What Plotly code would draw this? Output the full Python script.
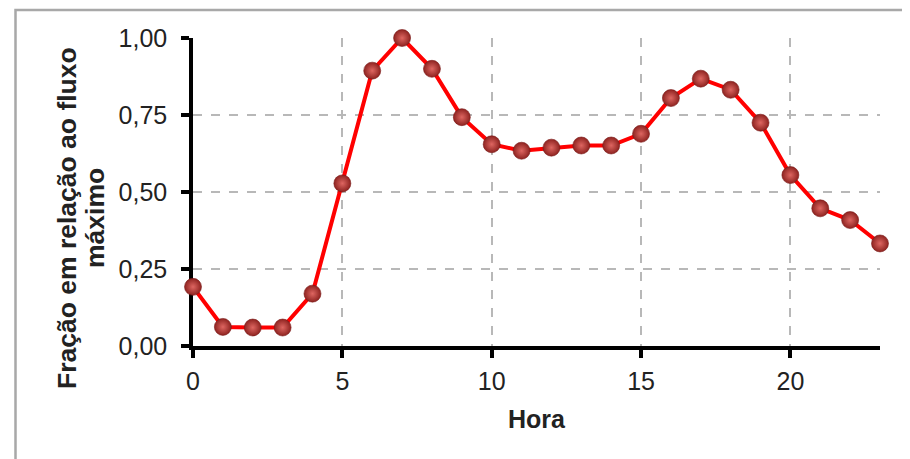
import plotly.graph_objects as go

hours = list(range(24))
fraction = [0.192, 0.062, 0.060, 0.060, 0.170, 0.528, 0.894, 1.000, 0.900, 0.743,
            0.655, 0.634, 0.644, 0.651, 0.651, 0.689, 0.805, 0.868, 0.832, 0.725,
            0.555, 0.447, 0.409, 0.333]
x_ticks = [0, 5, 10, 15, 20]
y_ticks = [0.0, 0.25, 0.5, 0.75, 1.0]
y_title_lines = ["Fração em relação ao fluxo", "máximo"]
x_title = "Hora"

# page body has an 8px margin; compensate so plot lands where the reference has it
OX, OY = 8, 8
W, H = 910, 459
L, R, T, B = 185, 38, 30, 121
pw, ph = W - L - R, H - T - B

def px_x(p):
    return (p - OX - L) / pw

def px_y(p):
    return (OY + T + ph - p) / ph

fig = go.Figure()
fig.add_trace(go.Scatter(
    x=hours, y=fraction, mode="lines+markers",
    line=dict(color="#ff0000", width=4),
    marker=dict(size=17, color="#8e2320",
                gradient=dict(type="radial", color="#de6661"),
                line=dict(width=0.6, color="#7a1a17")),
    cliponaxis=False, showlegend=False,
))

font = "Liberation Sans, Arial, sans-serif"
axis_common = dict(
    showline=True, linecolor="black", linewidth=3.5,
    ticks="outside", ticklen=8, tickwidth=3.5, tickcolor="black",
    showgrid=True, gridcolor="#b8b8b8", griddash="dash", gridwidth=1.5,
    zeroline=False, tickfont=dict(family=font, size=25, color="#222"),
    layer="below traces",
)
fig.update_xaxes(range=[0, 23], tickvals=x_ticks, ticklabelstandoff=2, **axis_common,
                 title=dict(text="<b>%s</b>" % x_title,
                            font=dict(family=font, size=25, color="#222"),
                            standoff=18))
fig.update_yaxes(range=[0, 1], tickvals=y_ticks, tickformat=".2f",
                 ticklabelstandoff=9, **axis_common)

annotations = []
for txt, xp in zip(y_title_lines, [67, 95]):
    annotations.append(dict(
        text="<b>%s</b>" % txt, xref="paper", yref="paper",
        x=px_x(xp), y=px_y(218), xanchor="center", yanchor="middle",
        textangle=-90, showarrow=False,
        font=dict(family=font, size=26.5, color="#222"),
    ))

fig.update_layout(
    width=W, height=H, margin=dict(l=L, r=R, t=T, b=B),
    paper_bgcolor="white", plot_bgcolor="white",
    separators=",.",
    annotations=annotations,
    shapes=[dict(type="rect", xref="paper", yref="paper",
                 x0=px_x(15.5), x1=px_x(940), y0=px_y(490), y1=px_y(10),
                 line=dict(color="#a8a8a8", width=2.5), layer="below")],
)

fig.write_html("out.html")
